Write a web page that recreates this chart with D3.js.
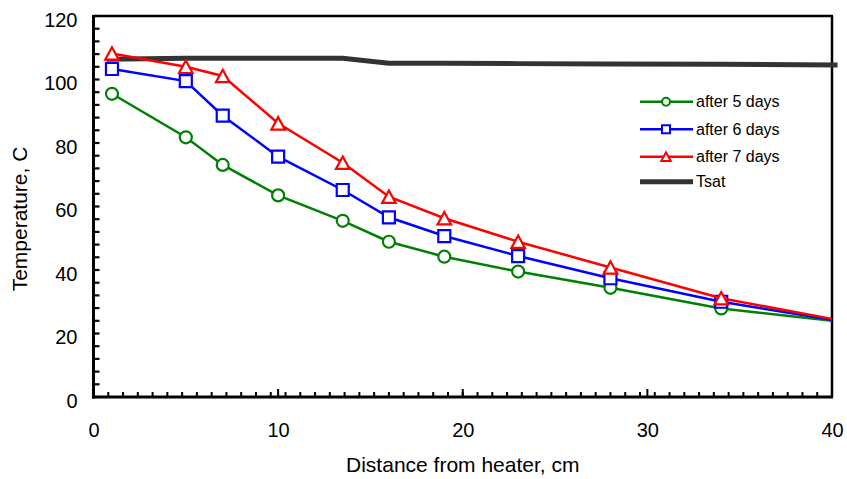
<!DOCTYPE html>
<html>
<head>
<meta charset="utf-8">
<script src="https://cdn.jsdelivr.net/npm/d3@7"></script>
<style>
  html, body { margin: 0; padding: 0; background: #fff; }
  svg { display: block; font-family: "Liberation Sans", Arial, sans-serif; }
</style>
</head>
<body>
<svg id="chart" width="847" height="479"></svg>
<script>
// ---- data ----
const distances = [1, 5, 7, 10, 13.5, 16, 19, 23, 28, 34, 40];
const after5 = [95.5, 81.8, 73.1, 63.5, 55.5, 48.9, 44.2, 39.5, 34.4, 27.9, 24.0];
const after6 = [103.3, 99.5, 88.6, 75.7, 65.2, 56.6, 50.7, 44.4, 37.4, 30.0, 24.3];
const after7 = [108.2, 104.0, 101.1, 86.2, 73.8, 63.1, 56.3, 48.9, 40.8, 31.1, 24.6];
const tsatDistances = [0.7, 5, 7, 10, 13.5, 16, 19, 23, 28, 34, 40.3];
const tsat = [106.4, 106.7, 106.7, 106.7, 106.7, 105.1, 105.1, 105.0, 104.9, 104.8, 104.6];
const seriesNames = ["after 5 days", "after 6 days", "after 7 days", "Tsat"];
const xTicks = [0, 10, 20, 30, 40];
const yTicks = [0, 20, 40, 60, 80, 100, 120];
const xTitle = "Distance from heater, cm";
const yTitle = "Temperature, C";

// ---- layout ----
const svg = d3.select("#chart");
const pLeft = 93.5, pRight = 832, pTop = 16, pBottom = 397;
const x = d3.scaleLinear().domain([0, 40]).range([pLeft, pRight]);
const y = d3.scaleLinear().domain([0, 120]).range([pBottom, pTop]);

const series = [
  {name: seriesNames[0], values: after5, color: "#008000", shape: "circle"},
  {name: seriesNames[1], values: after6, color: "#0000FF", shape: "square"},
  {name: seriesNames[2], values: after7, color: "#FF0000", shape: "triangle"}
];

function markerPath(shape, s) {
  if (shape === "circle") return d3.symbol(d3.symbolCircle, Math.PI * s * s / 4)();
  if (shape === "square") return `M${-s/2},${-s/2}H${s/2}V${s/2}H${-s/2}Z`;
  const h = s * 0.92;
  return `M0,${-h/2}L${s/2},${h/2}L${-s/2},${h/2}Z`;
}

// ---- minor ticks ----
const g = svg.append("g");
const xMinor = d3.range(0, 40.0001, 0.8);
g.selectAll(".xminor").data(xMinor).join("line")
  .attr("x1", d => x(d)).attr("x2", d => x(d))
  .attr("y1", pBottom).attr("y2", pBottom - 5)
  .attr("stroke", "#000").attr("stroke-width", 2);
g.selectAll(".xmajor").data(xTicks).join("line")
  .attr("x1", d => x(d)).attr("x2", d => x(d))
  .attr("y1", pBottom).attr("y2", pBottom - 8)
  .attr("stroke", "#000").attr("stroke-width", 2);
const yMinor = d3.range(0, 120.0001, 4);
g.selectAll(".yminor").data(yMinor).join("line")
  .attr("x1", pLeft).attr("x2", pLeft + 6)
  .attr("y1", d => y(d)).attr("y2", d => y(d))
  .attr("stroke", "#000").attr("stroke-width", 2.2);

// ---- frame ----
svg.append("line").attr("x1", pLeft).attr("x2", pRight + 1).attr("y1", pTop).attr("y2", pTop)
  .attr("stroke", "#000").attr("stroke-width", 2.5);
svg.append("line").attr("x1", pRight).attr("x2", pRight).attr("y1", pTop).attr("y2", pBottom)
  .attr("stroke", "#000").attr("stroke-width", 2.5);

// ---- axes labels via d3 axes ----
const xAxis = d3.axisBottom(x).tickValues(xTicks).tickSize(0).tickPadding(0).tickFormat(d3.format("d"));
const xg = svg.append("g").attr("transform", `translate(0,${pBottom})`).call(xAxis);
xg.select(".domain").remove();
xg.selectAll("text").attr("font-size", 20).attr("fill", "#000")
  .attr("font-family", "Liberation Sans, Arial, sans-serif")
  .attr("dy", null).attr("y", 40);

const yAxis = d3.axisLeft(y).tickValues(yTicks).tickSize(0).tickPadding(0).tickFormat(d3.format("d"));
const yg = svg.append("g").attr("transform", `translate(${pLeft},0)`).call(yAxis);
yg.select(".domain").remove();
yg.selectAll("text").attr("font-size", 20).attr("fill", "#000")
  .attr("font-family", "Liberation Sans, Arial, sans-serif")
  .attr("x", -16).attr("dy", "0.5em");

// ---- left & bottom axis lines ----
svg.append("line").attr("x1", pLeft).attr("x2", pLeft).attr("y1", pTop - 1).attr("y2", pBottom + 1.5)
  .attr("stroke", "#000").attr("stroke-width", 3);
svg.append("line").attr("x1", pLeft - 1.5).attr("x2", pRight + 1).attr("y1", pBottom).attr("y2", pBottom)
  .attr("stroke", "#000").attr("stroke-width", 3);

// ---- Tsat ----
const tsatPts = tsatDistances.map((d, i) => [d, tsat[i]]);
svg.append("path").datum(tsatPts)
  .attr("d", d3.line().x(d => x(d[0])).y(d => y(d[1])))
  .attr("fill", "none").attr("stroke", "#333333").attr("stroke-width", 5);

// ---- series ----
series.forEach(s => {
  const pts = distances.map((d, i) => [d, s.values[i]]);
  svg.append("path").datum(pts)
    .attr("d", d3.line().x(d => x(d[0])).y(d => y(d[1])))
    .attr("fill", "none").attr("stroke", s.color).attr("stroke-width", 2.5);
  svg.selectAll(null).data(pts.filter(p => p[0] < 40)).join("path")
    .attr("transform", d => `translate(${x(d[0])},${y(d[1])})`)
    .attr("d", markerPath(s.shape, s.shape === "triangle" ? 13.5 : 12))
    .attr("fill", "#fff").attr("stroke", s.color).attr("stroke-width", 2.2);
});

// ---- titles ----
svg.append("text").attr("x", (pLeft + pRight) / 2).attr("y", 472)
  .attr("text-anchor", "middle").attr("font-size", 21).text(xTitle);
svg.append("text").attr("transform", `translate(27,219) rotate(-90)`)
  .attr("text-anchor", "middle").attr("font-size", 21).text(yTitle);

// ---- legend ----
const legend = svg.append("g");
const legendItems = [
  {name: seriesNames[0], color: "#008000", shape: "circle", w: 2.5},
  {name: seriesNames[1], color: "#0000FF", shape: "square", w: 2.5},
  {name: seriesNames[2], color: "#FF0000", shape: "triangle", w: 2.5},
  {name: seriesNames[3], color: "#333333", shape: null, w: 5}
];
const rowY = [101.7, 129.3, 156.7, 181.7];
legendItems.forEach((it, i) => {
  const ly = rowY[i];
  legend.append("line").attr("x1", 640).attr("x2", 693).attr("y1", ly).attr("y2", ly)
    .attr("stroke", it.color).attr("stroke-width", it.w);
  if (it.shape) {
    legend.append("path").attr("transform", `translate(666,${ly})`)
      .attr("d", markerPath(it.shape, it.shape === "triangle" ? 9.5 : 8))
      .attr("fill", "#fff").attr("stroke", it.color).attr("stroke-width", 2);
  }
  legend.append("text").attr("x", 696).attr("y", ly + 5.7)
    .attr("font-size", 16).text(it.name);
});
</script>
</body>
</html>
